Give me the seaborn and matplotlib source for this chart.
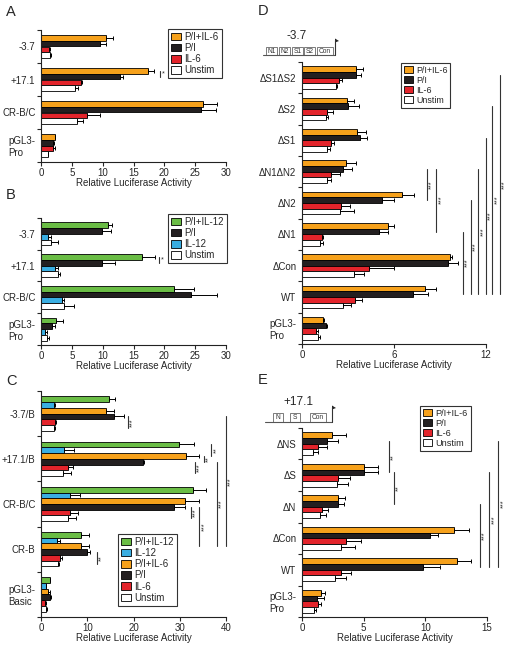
import numpy as np
import pandas as pd
import matplotlib
matplotlib.use('Agg')
import matplotlib.pyplot as plt
import seaborn as sns
from matplotlib.patches import Patch, Rectangle, Polygon
from matplotlib.lines import Line2D

sns.set_style('ticks')
plt.rcParams['font.family'] = ['Liberation Sans', 'DejaVu Sans']

W, H = 508, 649

ORANGE = '#F6A11B'
BLACK = '#231F20'
RED = '#E3242B'
WHITE = '#FFFFFF'
GREEN = '#6ABD45'
BLUE = '#3AAEE2'

# ---------------- Panel A ----------------
a_categories = ['-3.7', '+17.1', 'CR-B/C', 'pGL3-\nPro']
a_series = ['P/I+IL-6', 'P/I', 'IL-6', 'Unstim']
a_colors = [ORANGE, BLACK, RED, WHITE]
a_pi_il6 = [10.6, 17.4, 26.2, 2.2]
a_pi = [9.6, 12.8, 25.9, 2.0]
a_il6 = [1.3, 6.5, 7.5, 2.0]
a_unstim = [1.5, 5.5, 5.9, 1.1]
a_pi_il6_err = [1.1, 1.0, 2.4, 0.1]
a_pi_err = [1.0, 0.5, 2.5, 0.1]
a_il6_err = [0.1, 0.2, 2.0, 0.3]
a_unstim_err = [0.2, 0.5, 0.9, 0.1]

# ---------------- Panel B ----------------
b_categories = ['-3.7', '+17.1', 'CR-B/C', 'pGL3-\nPro']
b_series = ['P/I+IL-12', 'P/I', 'IL-12', 'Unstim']
b_colors = [GREEN, BLACK, BLUE, WHITE]
b_pi_il12 = [10.9, 16.3, 21.6, 2.5]
b_pi = [9.9, 9.9, 24.3, 1.8]
b_il12 = [1.1, 2.3, 3.4, 0.6]
b_unstim = [1.6, 2.8, 3.7, 1.0]
b_pi_il12_err = [0.6, 2.2, 3.2, 1.0]
b_pi_err = [1.4, 2.1, 4.2, 0.5]
b_il12_err = [0.5, 0.5, 0.4, 0.3]
b_unstim_err = [1.2, 0.3, 1.7, 0.3]

# ---------------- Panel C ----------------
c_categories = ['-3.7/B', '+17.1/B', 'CR-B/C', 'CR-B', 'pGL3-\nBasic']
c_series = ['P/I+IL-12', 'IL-12', 'P/I+IL-6', 'P/I', 'IL-6', 'Unstim']
c_colors = [GREEN, BLUE, ORANGE, BLACK, RED, WHITE]
c_pi_il12 = [14.8, 29.9, 32.8, 8.6, 1.9]
c_il12 = [2.9, 5.0, 6.3, 3.4, 1.0]
c_pi_il6 = [14.1, 31.4, 31.1, 8.6, 1.6]
c_pi = [15.8, 22.0, 28.8, 9.9, 1.9]
c_il6 = [3.1, 5.8, 6.3, 4.0, 0.9]
c_unstim = [2.9, 4.8, 5.8, 3.7, 1.0]
c_pi_il12_err = [1.1, 3.2, 2.8, 1.7, 0.1]
c_il12_err = [0.15, 2.2, 2.2, 0.8, 0.1]
c_pi_il6_err = [1.6, 2.8, 3.0, 1.8, 0.3]
c_pi_err = [2.2, 0.2, 2.4, 0.6, 0.2]
c_il6_err = [0.1, 1.2, 1.6, 0.6, 0.1]
c_unstim_err = [0.1, 1.6, 1.7, 0.1, 0.3]

# ---------------- Panel D ----------------
d_categories = ['\u0394S1\u0394S2', '\u0394S2', '\u0394S1', '\u0394N1\u0394N2', '\u0394N2',
                '\u0394N1', '\u0394Con', 'WT', 'pGL3-\nPro']
d_series = ['P/I+IL-6', 'P/I', 'IL-6', 'Unstim']
d_colors = [ORANGE, BLACK, RED, WHITE]
d_pi_il6 = [3.55, 2.95, 3.6, 2.85, 6.5, 5.6, 9.65, 8.0, 1.4]
d_pi = [3.55, 3.0, 3.75, 2.7, 5.2, 5.0, 9.55, 7.25, 1.55]
d_il6 = [2.4, 1.65, 1.9, 1.9, 2.55, 1.3, 4.4, 3.45, 0.9]
d_unstim = [2.2, 1.55, 1.6, 1.6, 2.5, 1.2, 3.4, 2.7, 1.05]
d_pi_il6_err = [0.45, 0.45, 0.55, 0.65, 0.8, 0.4, 0.13, 0.75, 0.05]
d_pi_err = [0.3, 0.7, 0.5, 0.55, 0.8, 0.6, 0.65, 0.95, 0.1]
d_il6_err = [0.2, 0.35, 0.2, 0.55, 0.6, 0.1, 1.6, 0.45, 0.15]
d_unstim_err = [0.1, 0.15, 0.2, 0.3, 0.9, 0.15, 0.65, 0.5, 0.1]

# ---------------- Panel E ----------------
e_categories = ['\u0394NS', '\u0394S', '\u0394N', '\u0394Con', 'WT', 'pGL3-\nPro']
e_series = ['P/I+IL-6', 'P/I', 'IL-6', 'Unstim']
e_colors = [ORANGE, BLACK, RED, WHITE]
e_pi_il6 = [2.4, 5.05, 2.9, 12.35, 12.6, 1.5]
e_pi = [2.0, 5.05, 2.9, 10.4, 9.8, 1.2]
e_il6 = [1.3, 2.9, 1.6, 3.55, 3.2, 1.3]
e_unstim = [0.9, 2.8, 1.45, 3.2, 2.7, 1.0]
e_pi_il6_err = [1.2, 1.1, 0.6, 1.15, 1.1, 0.4]
e_pi_err = [0.95, 1.1, 0.5, 0.6, 1.35, 0.6]
e_il6_err = [0.7, 1.0, 0.5, 1.2, 0.8, 0.2]
e_unstim_err = [0.4, 0.95, 0.5, 1.1, 0.85, 0.1]

# significance annotations: (x, row0, hue0, row1, hue1, label)
a_sig = [(19.3, 1, 0, 1, 1, '*')]
b_sig = [(19.2, 1, 0, 1, 1, '*')]
c_sig = [(18.8, 0, 3, 0, 5, '***'), (36.8, 1, 0, 1, 2, '**'), (35.2, 1, 2, 1, 3, '**'),
         (33.3, 1, 3, 1, 5, '***'), (32.4, 2, 3, 2, 5, '***'), (12.1, 3, 3, 3, 5, '**'),
         (34.2, 2, 3, 3, 2, '***'), (38.0, 1, 3, 3, 2, '***'), (40.0, 0, 3, 3, 2, '***')]
d_sig = [(8.15, 3, 1, 4, 1, '***'), (8.75, 3, 1, 5, 1, '***'), (10.5, 5, 1, 7, 1, '***'),
         (11.0, 4, 1, 7, 1, '***'), (11.5, 3, 1, 7, 1, '***'), (12.0, 2, 1, 7, 1, '***'),
         (12.4, 1, 1, 7, 1, '***'), (12.9, 0, 1, 7, 1, '***')]
e_sig = [(7.05, 0, 1, 1, 1, '**'), (7.46, 1, 1, 2, 1, '**'), (14.4, 2, 1, 4, 1, '***'),
         (15.2, 1, 1, 4, 1, '***'), (15.9, 0, 1, 4, 1, '***')]

fig = plt.figure(figsize=(W / 100, H / 100), dpi=100)


def rect_px(x0, ytop, x1, ybot):
    return [x0 / W, 1 - ybot / H, (x1 - x0) / W, (ybot - ytop) / H]


def bar_y(row, h, n, width):
    return row - width / 2 + (h + 0.5) * width / n


def panel(rect, categories, series, colors, values, errors, xmax, xticks, width,
          legend_xy, sigs, leg_fs=7, star_rot=90):
    ax = fig.add_axes(rect)
    n = len(series)
    rows = []
    for s, vals in zip(series, values):
        for c, v in zip(categories, vals):
            rows.append({'construct': c, 'condition': s, 'value': v})
    df = pd.DataFrame(rows)
    sns.barplot(data=df, y='construct', x='value', hue='condition', order=categories,
                hue_order=series, palette=colors, orient='h', width=width,
                edgecolor='black', linewidth=0.6, errorbar=None, saturation=1,
                legend=False, ax=ax)
    bar_conts = list(ax.containers)
    for hi, cont in enumerate(bar_conts):
        xs, ys, es = [], [], []
        for bar in cont.patches:
            yc = bar.get_y() + bar.get_height() / 2
            idx = int(round(yc))
            xs.append(bar.get_width())
            ys.append(yc)
            es.append(errors[hi][idx])
        ax.errorbar(xs, ys, xerr=[np.zeros(len(es)), es], fmt='none', ecolor='black',
                    elinewidth=0.7, capsize=1.6, capthick=0.7, zorder=3)
    nc = len(categories)
    ax.set_ylim(nc - 0.5, -0.5)
    ax.set_yticks(np.arange(nc + 1) - 0.5)
    ax.set_yticklabels([])
    ax.set_yticks(np.arange(nc), minor=True)
    ax.set_yticklabels(categories, minor=True, fontsize=7)
    for lab in ax.get_yticklabels(minor=True):
        lab.set_multialignment('left')
    ax.tick_params(axis='y', which='minor', length=0, pad=4)
    ax.tick_params(axis='y', which='major', length=3, width=0.8)
    ax.set_xlim(0, xmax)
    ax.set_xticks(xticks)
    ax.set_xticklabels([str(t) for t in xticks], fontsize=7)
    ax.tick_params(axis='x', length=3, width=0.8, pad=1)
    ax.set_xlabel('Relative Luciferase Activity', fontsize=7, labelpad=0.5)
    ax.set_ylabel('')
    sns.despine(ax=ax)
    for sp in ['left', 'bottom']:
        ax.spines[sp].set_linewidth(0.8)
        ax.spines[sp].set_color('#222222')
    handles = [Patch(facecolor=c, edgecolor='black', linewidth=0.6, label=s)
               for s, c in zip(series, colors)]
    leg = ax.legend(handles=handles, loc='upper left',
                    bbox_to_anchor=(legend_xy[0] / W, 1 - legend_xy[1] / H),
                    bbox_transform=fig.transFigure, frameon=True, fancybox=False,
                    edgecolor='black', fontsize=leg_fs, handlelength=1.0, handleheight=0.8,
                    handletextpad=0.4, labelspacing=0.12, borderpad=0.3,
                    borderaxespad=0)
    leg.get_frame().set_linewidth(0.8)
    for (x, r0, h0, r1, h1, lab) in sigs:
        y0 = bar_y(r0, h0, n, width)
        y1 = bar_y(r1, h1, n, width)
        ax.add_line(Line2D([x, x], [y0, y1], color='#333333', lw=0.8, clip_on=False))
        ax.annotate(lab, xy=(x, (y0 + y1) / 2), xytext=(1.2, 0), textcoords='offset points',
                    rotation=star_rot, ha='left', va='center', fontsize=5.2,
                    annotation_clip=False)
    return ax


panel(rect_px(41, 30, 226, 162), a_categories, a_series, a_colors,
      [a_pi_il6, a_pi, a_il6, a_unstim],
      [a_pi_il6_err, a_pi_err, a_il6_err, a_unstim_err],
      30, [0, 5, 10, 15, 20, 25, 30], 0.72, (168, 29), a_sig, star_rot=0)

panel(rect_px(41, 218, 226, 345), b_categories, b_series, b_colors,
      [b_pi_il12, b_pi, b_il12, b_unstim],
      [b_pi_il12_err, b_pi_err, b_il12_err, b_unstim_err],
      30, [0, 5, 10, 15, 20, 25, 30], 0.72, (168, 214), b_sig, star_rot=0)

panel(rect_px(41, 391, 226, 617), c_categories, c_series, c_colors,
      [c_pi_il12, c_il12, c_pi_il6, c_pi, c_il6, c_unstim],
      [c_pi_il12_err, c_il12_err, c_pi_il6_err, c_pi_err, c_il6_err, c_unstim_err],
      40, [0, 10, 20, 30, 40], 0.76, (118, 534), c_sig)

panel(rect_px(302, 62, 486, 344), d_categories, d_series, d_colors,
      [d_pi_il6, d_pi, d_il6, d_unstim],
      [d_pi_il6_err, d_pi_err, d_il6_err, d_unstim_err],
      12, [0, 6, 12], 0.72, (401, 63), d_sig, leg_fs=6.4)

panel(rect_px(302, 428, 487, 617), e_categories, e_series, e_colors,
      [e_pi_il6, e_pi, e_il6, e_unstim],
      [e_pi_il6_err, e_pi_err, e_il6_err, e_unstim_err],
      15, [0, 5, 10, 15], 0.72, (420, 406), e_sig, leg_fs=6.6)

# panel letters
for lab, x, y in [('A', 6, 12), ('B', 6, 195), ('C', 6, 381), ('D', 258, 11), ('E', 258, 380)]:
    fig.text(x / W, 1 - y / H, lab, fontsize=10.5, ha='left', va='center')


def fx(x):
    return x / W


def fy(y):
    return 1 - y / H


def promoter(title, title_xy, base_y, x0, x1, boxes, box_top, flag_top):
    fig.text(fx(title_xy[0]), fy(title_xy[1]), title, fontsize=8.5, ha='center', va='center')
    fig.add_artist(Line2D([fx(x0), fx(x1)], [fy(base_y), fy(base_y)], color='#555555',
                          lw=0.8, transform=fig.transFigure))
    fig.add_artist(Line2D([fx(x1), fx(x1)], [fy(base_y), fy(flag_top)], color='#333333',
                          lw=0.8, transform=fig.transFigure))
    fig.add_artist(Polygon([[fx(x1), fy(flag_top - 1.5)], [fx(x1 + 4), fy(flag_top + 1)],
                            [fx(x1), fy(flag_top + 2.5)]], closed=True, facecolor='#222222',
                           edgecolor='none', transform=fig.transFigure))
    for name, bx0, bx1 in boxes:
        fig.add_artist(Rectangle((fx(bx0), fy(base_y)), fx(bx1) - fx(bx0),
                                 fy(box_top) - fy(base_y), facecolor='white',
                                 edgecolor='#666666', lw=0.6, transform=fig.transFigure))
        fig.text(fx((bx0 + bx1) / 2), fy((box_top + base_y) / 2), name, fontsize=4.8,
                 ha='center', va='center', color='#333333')


promoter('-3.7', (297, 36), 55, 263, 335,
         [('N1', 266, 277), ('N2', 279, 290), ('S1', 292, 303), ('S2', 304, 315),
          ('Con', 317, 333)], 47.5, 40)
promoter('+17.1', (298, 402), 422, 265, 332,
         [('N', 273, 283), ('S', 290, 300), ('Con', 310, 326)], 412.5, 407)

fig.savefig('out.png', dpi=100)
